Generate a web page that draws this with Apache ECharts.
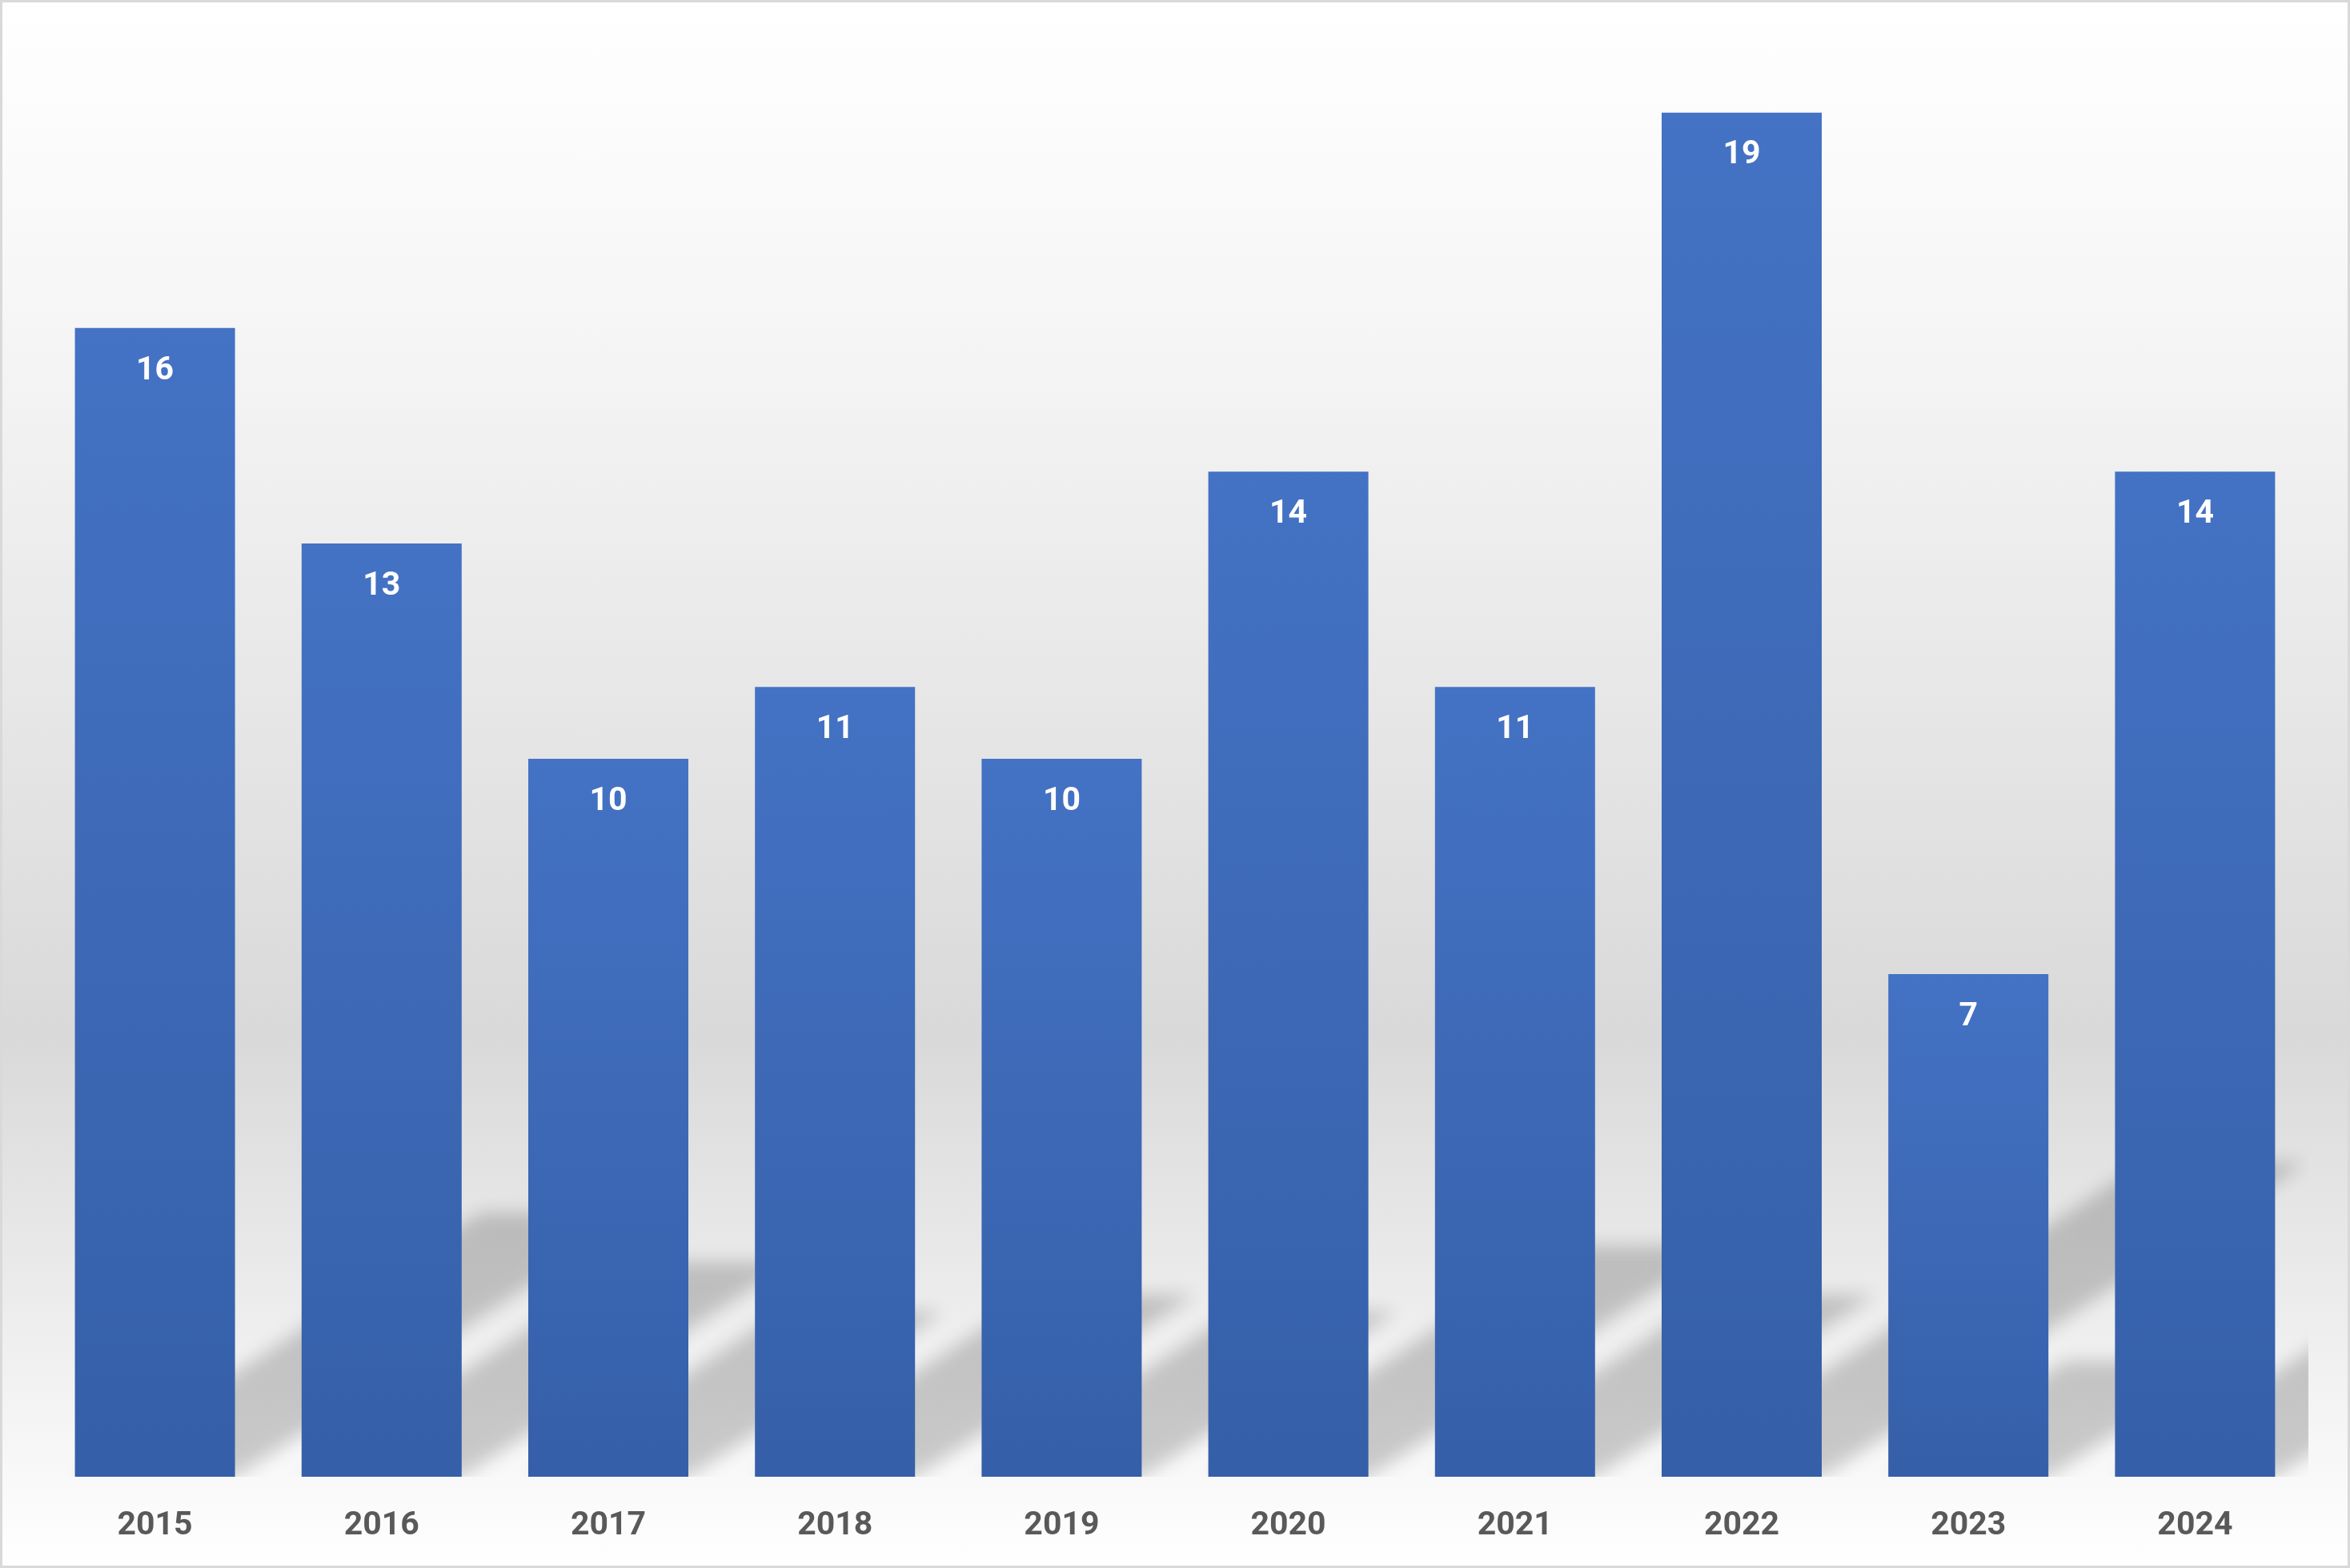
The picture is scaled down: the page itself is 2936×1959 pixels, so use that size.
<!DOCTYPE html>
<html>
<head>
<meta charset="utf-8">
<script src="https://cdn.jsdelivr.net/npm/echarts@6/dist/echarts.min.js"></script>
<style>
  html, body { margin: 0; padding: 0; background: #fff; }
  #chart { width: 2936px; height: 1959px; }
</style>
</head>
<body>
<div id="chart"></div>
<script>
const categories = ['2015', '2016', '2017', '2018', '2019', '2020', '2021', '2022', '2023', '2024'];
const values = [16, 13, 10, 11, 10, 14, 11, 19, 7, 14];

const chart = echarts.init(document.getElementById('chart'), null, { renderer: 'canvas' });

const BAR_WIDTH = 200;
const SHADOW_RISE = 0.23;   // shadow height relative to bar height
const SHADOW_SLOPE = 0.65;  // dy/dx of the skewed shadow
const OFF = 6000;           // draw shape off-canvas, keep only its blurred shadow

const option = {
  animation: false,
  backgroundColor: {
    type: 'linear', x: 0, y: 0, x2: 0, y2: 1,
    colorStops: [
      { offset: 0, color: '#ffffff' },
      { offset: 0.2, color: '#f6f6f6' },
      { offset: 0.46, color: '#e6e6e6' },
      { offset: 0.66, color: '#d9d9d9' },
      { offset: 1, color: '#ffffff' }
    ]
  },
  grid: { left: 52, right: 52, top: 51, bottom: 114, containLabel: false },
  xAxis: {
    type: 'category',
    data: categories,
    axisLine: { show: false },
    axisTick: { show: false },
    axisLabel: {
      color: '#595959',
      fontFamily: 'Roboto',
      fontWeight: 'bold',
      fontSize: 41,
      lineHeight: 41,
      margin: 41
    }
  },
  yAxis: {
    type: 'value',
    min: 0,
    max: 20,
    show: false,
    splitLine: { show: false }
  },
  series: [
    {
      type: 'custom',
      silent: true,
      clip: true,
      z: 1,
      data: values.map((v, i) => [i, v]),
      renderItem: function (params, api) {
        const i = api.value(0);
        const v = api.value(1);
        const top = api.coord([i, v]);
        const base = api.coord([i, 0]);
        const h = base[1] - top[1];
        const dy = h * SHADOW_RISE;
        const dx = dy / SHADOW_SLOPE;
        const x0 = base[0] - BAR_WIDTH / 2 + OFF;
        const x1 = base[0] + BAR_WIDTH / 2 + OFF;
        const b = base[1];
        return {
          type: 'polygon',
          shape: { points: [[x0, b], [x1, b], [x1 + dx, b - dy], [x0 + dx, b - dy]] },
          style: {
            fill: '#000',
            shadowBlur: 22,
            shadowColor: 'rgba(0,0,0,0.19)',
            shadowOffsetX: -OFF,
            shadowOffsetY: 0
          }
        };
      }
    },
    {
      type: 'bar',
      z: 3,
      data: values,
      barWidth: BAR_WIDTH,
      itemStyle: {
        color: {
          type: 'linear', x: 0, y: 0, x2: 0, y2: 1,
          colorStops: [
            { offset: 0, color: '#4472C4' },
            { offset: 1, color: '#355FA8' }
          ]
        }
      },
      label: {
        show: true,
        position: 'insideTop',
        distance: 33,
        color: '#ffffff',
        fontFamily: 'Roboto',
        fontWeight: 'bold',
        fontSize: 41,
        lineHeight: 41
      }
    }
  ],
  graphic: [
    {
      type: 'rect',
      silent: true,
      z: 100,
      shape: { x: 1.5, y: 1.5, width: 2933, height: 1956 },
      style: { fill: null, stroke: '#d9d9d9', lineWidth: 3 }
    }
  ]
};

chart.setOption(option);
</script>
</body>
</html>
